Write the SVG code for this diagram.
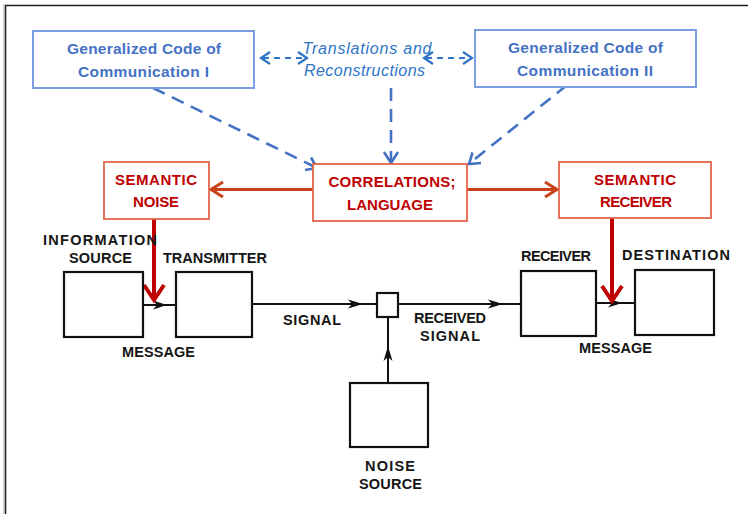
<svg xmlns="http://www.w3.org/2000/svg" width="748" height="514" viewBox="0 0 748 514">
<style>
.bluebox{fill:#fff;stroke:#7a9fe0;stroke-width:2}
.redbox{fill:#fff;stroke:#e2654a;stroke-width:1.8}
.blkbox{fill:#fff;stroke:#111;stroke-width:2.2}
.bt{font-family:"Liberation Sans",Arial,sans-serif;font-weight:bold;font-size:15.5px;fill:#4472c4;text-anchor:middle}
.it{font-family:"Liberation Sans",Arial,sans-serif;font-style:italic;font-size:16px;fill:#2e75c6;text-anchor:middle}
.rt{font-family:"Liberation Sans",Arial,sans-serif;font-weight:bold;font-size:15px;fill:#c00000;text-anchor:middle}
.kt{font-family:"Liberation Sans",Arial,sans-serif;font-weight:bold;font-size:14.5px;fill:#151515;text-anchor:middle}
.bdash{fill:none;stroke:#4472c4;stroke-width:2.6;stroke-dasharray:13 8}
.bhead{fill:none;stroke:#4472c4;stroke-width:2.6;stroke-linejoin:miter}
.tdash{fill:none;stroke:#2e75c6;stroke-width:2.2;stroke-dasharray:6 5}
.thead{fill:none;stroke:#2e75c6;stroke-width:2.2}
.rline{fill:none;stroke:#c8431a;stroke-width:3}
.dline{fill:none;stroke:#c00000;stroke-width:4}
.kline{fill:none;stroke:#111;stroke-width:2}
.khead{fill:#111}
</style>
<rect x="0" y="0" width="748" height="514" fill="#fff"/>
<g id="frame">
<path d="M5.5,514 L5.5,5.5 L748,5.5" fill="none" stroke="#222" stroke-width="1.6"/>
<path d="M3.8,514 L3.8,4" fill="none" stroke="#bbb" stroke-width="1"/>
</g>
<g id="connectors">
<path class="tdash" d="M263,58 L305,58"/>
<path class="thead" d="M270,52 L261,58 L270,64 M298,52 L307,58 L298,64"/>
<path class="tdash" d="M426,58 L470,58"/>
<path class="thead" d="M433,52 L424,58 L433,64 M463,52 L472,58 L463,64"/>
<path class="bdash" d="M153,88 L315,167"/>
<path class="bhead" d="M311,157.5 L317,168 L305,170"/>
<path class="bdash" d="M391,88 L391,161"/>
<path class="bhead" d="M384,152 L391,163 L398,152"/>
<path class="bdash" d="M567,85 L470,163"/>
<path class="bhead" d="M472.5,152.5 L469,164 L481,163"/>
<path class="rline" d="M313,189.5 L211,189.5"/>
<path class="rline" d="M223,182 L211,189.5 L223,197"/>
<path class="rline" d="M467,189.5 L557,189.5"/>
<path class="rline" d="M545,182 L557,189.5 L545,197"/>
<path class="kline" d="M143,305 L176,305"/>
<path class="khead" d="M167,305 L153,300.5 L157,305 L153,309.5 Z"/>
<path class="kline" d="M252,304 L377,304"/>
<path class="khead" d="M363,304 L348,299.5 L352,304 L348,308.5 Z"/>
<path class="kline" d="M398,304 L521,304"/>
<path class="khead" d="M503,304 L488,299.5 L492,304 L488,308.5 Z"/>
<path class="kline" d="M596,303 L635,303"/>
<path class="khead" d="M622,303 L608,298.5 L612,303 L608,307.5 Z"/>
<path class="kline" d="M388,383 L388,317"/>
<path class="khead" d="M388,346 L383.5,361 L388,357 L392.5,361 Z"/>
<path class="dline" d="M154,219 L154,300"/>
<path class="dline" d="M144,285 L154,300 L164,285" stroke-linejoin="miter"/>
<path class="dline" d="M612,218 L612,301"/>
<path class="dline" d="M602,286 L612,301 L622,286" stroke-linejoin="miter"/>
</g>
<g id="gc1">
<rect class="bluebox" x="33" y="31" width="221" height="57"/>
<text class="bt" x="144" y="54" textLength="154">Generalized Code of</text>
<text class="bt" x="143.5" y="77" textLength="131">Communication I</text>
</g>
<g id="gc2">
<rect class="bluebox" x="475" y="30" width="221" height="57"/>
<text class="bt" x="585.5" y="53" textLength="155">Generalized Code of</text>
<text class="bt" x="585" y="76" textLength="136">Communication II</text>
</g>
<g id="translations">
<text class="it" x="367" y="54" textLength="129">Translations and</text>
<text class="it" x="364.5" y="76" textLength="121">Reconstructions</text>
</g>
<g id="correlations">
<rect class="redbox" x="313" y="164" width="154" height="57"/>
<text class="rt" x="392" y="187" textLength="127">CORRELATIONS;</text>
<text class="rt" x="390" y="210" textLength="86">LANGUAGE</text>
</g>
<g id="semantic-noise">
<rect class="redbox" x="104" y="162" width="105" height="57"/>
<text class="rt" x="156" y="185" textLength="82">SEMANTIC</text>
<text class="rt" x="156" y="207" textLength="46">NOISE</text>
</g>
<g id="semantic-receiver">
<rect class="redbox" x="559" y="162" width="152" height="56"/>
<text class="rt" x="635" y="185" textLength="82">SEMANTIC</text>
<text class="rt" x="636" y="207" textLength="72">RECEIVER</text>
</g>
<g id="information-source">
<rect class="blkbox" x="64" y="272" width="79" height="65"/>
<text class="kt" x="100" y="245" textLength="114">INFORMATION</text>
<text class="kt" x="100.5" y="263" textLength="63">SOURCE</text>
</g>
<g id="transmitter">
<rect class="blkbox" x="176" y="272" width="76" height="65"/>
<text class="kt" x="215" y="263" textLength="104">TRANSMITTER</text>
</g>
<g id="noise-junction">
<rect class="blkbox" x="377" y="293" width="21" height="24"/>
</g>
<g id="receiver">
<rect class="blkbox" x="521" y="271" width="75" height="65"/>
<text class="kt" x="556" y="261" textLength="70">RECEIVER</text>
</g>
<g id="destination">
<rect class="blkbox" x="635" y="270" width="79" height="65"/>
<text class="kt" x="676" y="260" textLength="108">DESTINATION</text>
</g>
<g id="noise-source">
<rect class="blkbox" x="350" y="383" width="78" height="64"/>
<text class="kt" x="390" y="471" textLength="50">NOISE</text>
<text class="kt" x="390.5" y="489" textLength="63">SOURCE</text>
</g>
<g id="labels">
<text class="kt" x="158.5" y="357" textLength="73">MESSAGE</text>
<text class="kt" x="312" y="325" textLength="58">SIGNAL</text>
<text class="kt" x="450" y="323" textLength="72">RECEIVED</text>
<text class="kt" x="450" y="341" textLength="60">SIGNAL</text>
<text class="kt" x="615.5" y="353" textLength="73">MESSAGE</text>
</g>
</svg>
